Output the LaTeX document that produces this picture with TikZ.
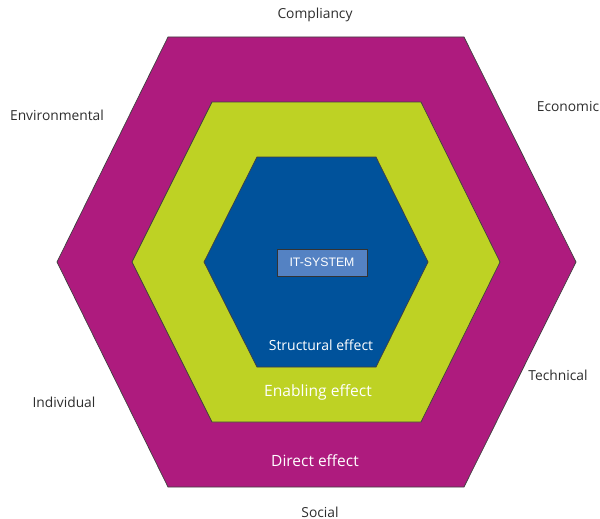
\documentclass[tikz,border=0pt]{standalone}
\usepackage{fontspec}
\setmainfont{Open Sans}
\newfontfamily\boxfont{Liberation Sans}
\usepackage{xcolor}
\usepackage{tikz}
\usetikzlibrary{positioning}

\definecolor{hexpurple}{RGB}{174,27,126}
\definecolor{hexlime}{RGB}{190,210,36}
\definecolor{hexblue}{RGB}{0,82,155}
\definecolor{itblue}{RGB}{84,130,195}
\definecolor{labelgray}{RGB}{45,45,45}

\tikzset{
    ring/.style={draw=black!75, line width=0.7pt, line join=miter},
    outerlabel/.style={text=labelgray, font=\fontsize{13.8}{16}\selectfont, inner sep=0pt},
    effectlabel/.style={text=white, inner sep=0pt},
}

\begin{document}
\begin{tikzpicture}[x=1pt, y=-1pt]
        \useasboundingbox (0,0) rectangle (600,519);
        \draw[ring, fill=hexpurple] (168,37) -- (464,37) -- (576,262) -- (464,487) -- (168,487) -- (57,262) -- cycle;
        \draw[ring, fill=hexlime] (212,102) -- (421,102) -- (500,262) -- (421,422) -- (212,422) -- (132,262) -- cycle;
        \draw[ring, fill=hexblue] (257,157) -- (376,157) -- (428,262) -- (376,367) -- (257,367) -- (204,262) -- cycle;

        \node[draw=black!80, fill=itblue, line width=0.7pt, minimum width=90pt, minimum height=27pt, inner sep=0pt,
              text=white, font=\boxfont\fontsize{12.3}{14}\selectfont] (itsystem) at (322,262.5) {IT-SYSTEM\hspace{6pt}};

        \node[effectlabel, font=\fontsize{14}{16}\selectfont] (structural) at (321,345) {Structural effect};
        \node[effectlabel, font=\fontsize{15.6}{18}\selectfont] (enabling) at (318,392) {Enabling effect};
        \node[effectlabel, font=\fontsize{15.5}{18}\selectfont] (direct) at (315,461) {Direct effect};

        \node[outerlabel] (compliancy) at (315,15) {Compliancy};
        \node[outerlabel] (economic) at (568,107) {Economic};
        \node[outerlabel] (technical) at (558,375) {Technical};
        \node[outerlabel] (social) at (320,512) {Social};
        \node[outerlabel] (individual) at (64,402) {Individual};
        \node[outerlabel] (environmental) at (57,115) {Environmental};
    \end{tikzpicture}
\end{document}
